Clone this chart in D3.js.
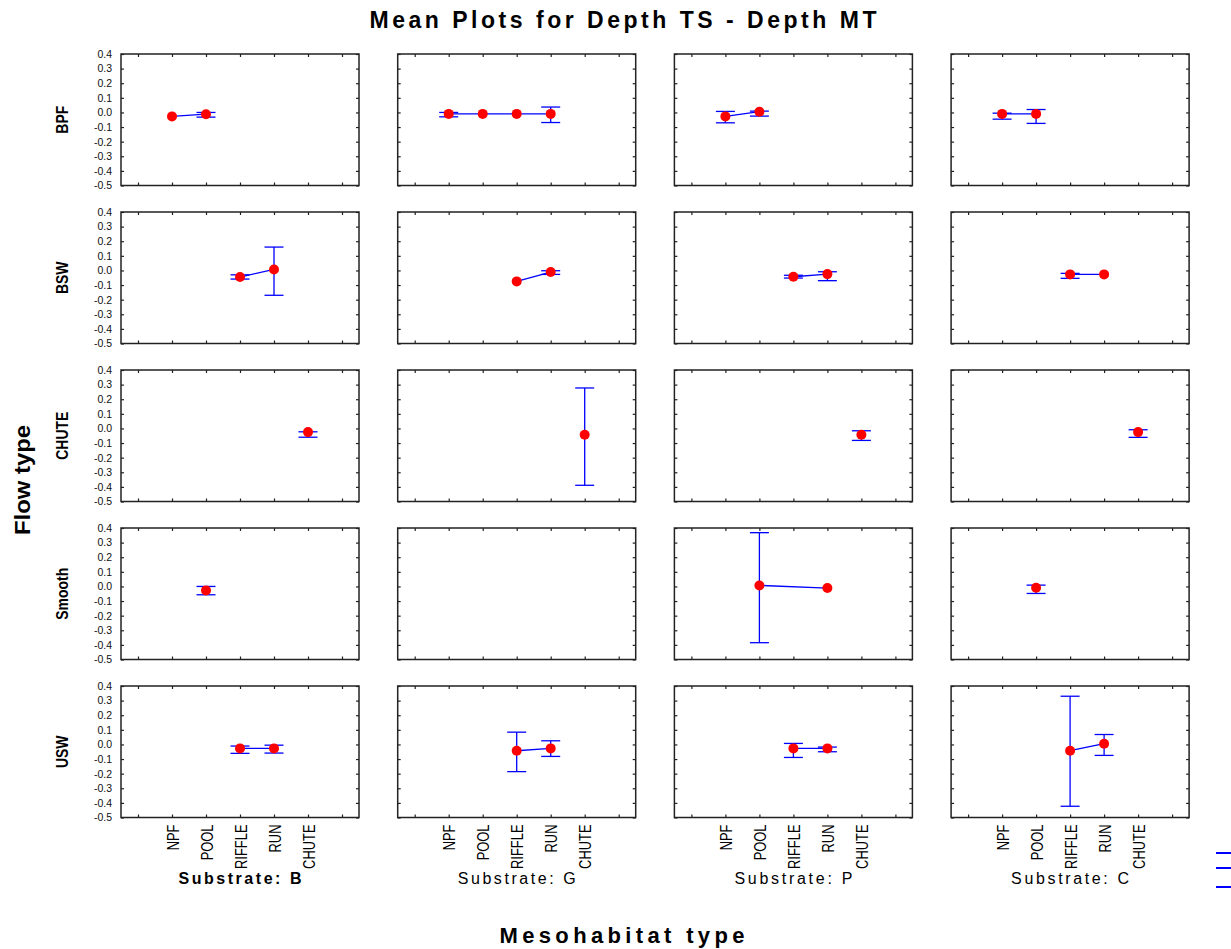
<!DOCTYPE html>
<html>
<head>
<meta charset="utf-8">
<script src="https://cdn.jsdelivr.net/npm/d3@7"></script>
<style>
  html, body { margin: 0; padding: 0; background: #fff; }
  svg { display: block; font-family: "Liberation Sans", Arial, sans-serif; }
</style>
</head>
<body>
<svg id="chart" width="1231" height="949"></svg>
<script>
// Category lists
const flowTypes = ["BPF", "BSW", "CHUTE", "Smooth", "USW"];
const substrates = ["B", "G", "P", "C"];
const mesohabitats = ["NPF", "POOL", "RIFFLE", "RUN", "CHUTE"];

// Y axis ticks and their printed labels
const yTicks = [0.4, 0.3, 0.2, 0.1, 0.0, -0.1, -0.2, -0.3, -0.4, -0.5];
const yTickLabels = ["0.4", "0.3", "0.2", "0.1", "0.0", "-0.1", "-0.2", "-0.3", "-0.4", "-0.5"];

// Means of Depth TS - Depth MT: [substrate, mesohabitat, mean, lower, upper]
const BPF = [
  ["B", "NPF", -0.027, null, null],
  ["B", "POOL", -0.012, -0.032, 0.000],
  ["G", "NPF", -0.010, -0.030, 0.000],
  ["G", "POOL", -0.010, null, null],
  ["G", "RIFFLE", -0.010, null, null],
  ["G", "RUN", -0.010, -0.069, 0.037],
  ["P", "NPF", -0.027, -0.071, 0.007],
  ["P", "POOL", 0.005, -0.025, 0.009],
  ["C", "NPF", -0.010, -0.046, -0.005],
  ["C", "POOL", -0.010, -0.075, 0.020]
];
const BSW = [
  ["B", "RIFFLE", -0.045, -0.059, -0.030],
  ["B", "RUN", 0.007, -0.170, 0.160],
  ["G", "RIFFLE", -0.075, null, null],
  ["G", "RUN", -0.011, -0.027, -0.002],
  ["P", "RIFFLE", -0.043, -0.052, -0.033],
  ["P", "RUN", -0.025, -0.070, -0.009],
  ["C", "RIFFLE", -0.027, -0.054, -0.020],
  ["C", "RUN", -0.027, null, null]
];
const CHUTE = [
  ["B", "CHUTE", -0.025, -0.060, -0.023],
  ["G", "CHUTE", -0.043, -0.389, 0.277],
  ["P", "CHUTE", -0.043, -0.082, -0.016],
  ["C", "CHUTE", -0.025, -0.061, -0.009]
];
const Smooth = [
  ["B", "POOL", -0.027, -0.057, 0.000],
  ["P", "POOL", 0.007, -0.385, 0.368],
  ["P", "RUN", -0.011, null, null],
  ["C", "POOL", -0.009, -0.048, 0.009]
];
const USW = [
  ["B", "RIFFLE", -0.027, -0.061, -0.011],
  ["B", "RUN", -0.027, -0.059, -0.005],
  ["G", "RIFFLE", -0.043, -0.186, 0.084],
  ["G", "RUN", -0.027, -0.082, 0.025],
  ["P", "RIFFLE", -0.027, -0.089, 0.007],
  ["P", "RUN", -0.027, -0.050, -0.018],
  ["C", "RIFFLE", -0.043, -0.423, 0.330],
  ["C", "RUN", 0.005, -0.075, 0.068]
];
const rowsData = { BPF, BSW, CHUTE, Smooth, USW };

// Layout
const svg = d3.select("#chart");
const colLeft0 = 121, colStep = 276.7, pw = 238;
const rowTop0 = 54, rowStep = 158, ph = 131.5;
const blue = "#0000ff", red = "#ff0000", frame = "#222";

// One empty slot either side of the five mesohabitats
const slots = ["_a", ...mesohabitats, "_b"];
const x = d3.scalePoint().domain(slots).range([0, pw]).padding(0.5);
const y = d3.scaleLinear().domain([-0.5, 0.4]).range([ph, 0]);
const capHalf = 9.5;

flowTypes.forEach((ft, r) => {
  substrates.forEach((sub, c) => {
    const g = svg.append("g")
      .attr("transform", `translate(${colLeft0 + c * colStep},${rowTop0 + r * rowStep})`);

    // Axes with inward ticks on all four sides
    const left = d3.axisLeft(y).tickValues(yTicks).tickSizeInner(-3).tickSizeOuter(0).tickPadding(9)
      .tickFormat((d, i) => c === 0 ? yTickLabels[i] : "");
    const right = d3.axisRight(y).tickValues(yTicks).tickSizeInner(-3).tickSizeOuter(0).tickFormat("");
    const top = d3.axisTop(x).tickSizeInner(-3).tickSizeOuter(0).tickFormat("");
    const bottom = d3.axisBottom(x).tickSizeInner(-3).tickSizeOuter(0)
      .tickFormat(d => (r === flowTypes.length - 1 && mesohabitats.includes(d)) ? d : "");

    const gl = g.append("g").call(left);
    g.append("g").attr("transform", `translate(${pw},0)`).call(right);
    g.append("g").call(top);
    const gb = g.append("g").attr("transform", `translate(0,${ph})`).call(bottom);

    g.selectAll(".domain").remove();
    g.selectAll(".tick line").attr("stroke", frame).attr("stroke-width", 1.2);

    gl.selectAll("text")
      .attr("font-size", 10.5).attr("fill", "#111")
      .attr("font-family", "'Liberation Sans', Arial, sans-serif");

    // Vertical category labels, slightly condensed
    gb.selectAll("text")
      .attr("font-size", 17).attr("fill", "#000")
      .attr("font-family", "'Liberation Sans', Arial, sans-serif")
      .attr("transform", "rotate(-90) scale(0.76,1)")
      .attr("x", -7 / 0.76).attr("y", 0).attr("dy", "0.36em")
      .style("text-anchor", "end");

    // Panel frame
    g.append("rect")
      .attr("width", pw).attr("height", ph)
      .attr("fill", "none").attr("stroke", frame).attr("stroke-width", 1.5);

    // Points of this panel, in mesohabitat order
    const pts = rowsData[ft]
      .filter(d => d[0] === sub)
      .map(d => ({ m: d[1], mean: d[2], lo: d[3], hi: d[4] }))
      .sort((a, b) => mesohabitats.indexOf(a.m) - mesohabitats.indexOf(b.m));

    // Line joining the means
    if (pts.length > 1) {
      g.append("path")
        .datum(pts)
        .attr("fill", "none").attr("stroke", blue).attr("stroke-width", 1.3)
        .attr("d", d3.line().x(d => x(d.m)).y(d => y(d.mean)));
    }

    // Whiskers
    const wb = pts.filter(d => d.lo !== null);
    const eg = g.append("g").attr("stroke", blue).attr("stroke-width", 1.3);
    eg.selectAll("line.v").data(wb).join("line").attr("class", "v")
      .attr("x1", d => x(d.m)).attr("x2", d => x(d.m))
      .attr("y1", d => y(d.lo)).attr("y2", d => y(d.hi));
    eg.selectAll("line.lo").data(wb).join("line").attr("class", "lo")
      .attr("x1", d => x(d.m) - capHalf).attr("x2", d => x(d.m) + capHalf)
      .attr("y1", d => y(d.lo)).attr("y2", d => y(d.lo));
    eg.selectAll("line.hi").data(wb).join("line").attr("class", "hi")
      .attr("x1", d => x(d.m) - capHalf).attr("x2", d => x(d.m) + capHalf)
      .attr("y1", d => y(d.hi)).attr("y2", d => y(d.hi));

    // Mean markers
    g.selectAll("circle").data(pts).join("circle")
      .attr("cx", d => x(d.m)).attr("cy", d => y(d.mean))
      .attr("r", 5).attr("fill", red);

    // Row label in the first column
    if (c === 0) {
      svg.append("text")
        .attr("transform", `translate(68,${rowTop0 + r * rowStep + ph / 2}) rotate(-90) scale(0.82,1)`)
        .attr("text-anchor", "middle")
        .attr("font-size", 17).attr("font-weight", "bold")
        .text(ft);
    }
  });
});

// Substrate labels under each column
substrates.forEach((sub, c) => {
  svg.append("text")
    .attr("x", colLeft0 + c * colStep + pw / 2)
    .attr("y", 884)
    .attr("text-anchor", "middle")
    .attr("font-size", 16)
    .attr("font-weight", c === 0 ? "bold" : "normal")
    .attr("textLength", c === 0 ? 123 : 118)
    .attr("lengthAdjust", "spacing")
    .text(`Substrate: ${sub}`);
});

// Title and axis titles
svg.append("text")
  .attr("x", 623).attr("y", 28)
  .attr("text-anchor", "middle")
  .attr("font-size", 23).attr("font-weight", "bold")
  .attr("textLength", 507).attr("lengthAdjust", "spacing")
  .text("Mean Plots for Depth TS - Depth MT");

svg.append("text")
  .attr("x", 622).attr("y", 943)
  .attr("text-anchor", "middle")
  .attr("font-size", 22).attr("font-weight", "bold")
  .attr("textLength", 245).attr("lengthAdjust", "spacing")
  .text("Mesohabitat type");

svg.append("text")
  .attr("transform", "translate(30,480) rotate(-90)")
  .attr("text-anchor", "middle")
  .attr("font-size", 22).attr("font-weight", "bold")
  .attr("textLength", 110).attr("lengthAdjust", "spacingAndGlyphs")
  .text("Flow type");

// Legend swatches at the right edge
const legendY = [853, 868, 887];
svg.append("g").selectAll("line").data(legendY).join("line")
  .attr("x1", 1216).attr("x2", 1235)
  .attr("y1", d => d).attr("y2", d => d)
  .attr("stroke", blue).attr("stroke-width", 2);
</script>
</body>
</html>
